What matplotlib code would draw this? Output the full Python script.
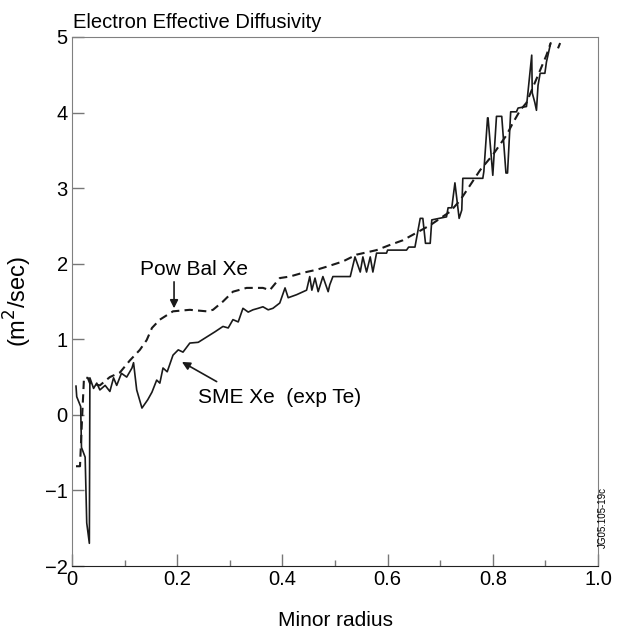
import numpy as np
import matplotlib
matplotlib.use("Agg")
import matplotlib.pyplot as plt

plt.rcParams['font.family'] = ['Liberation Sans', 'DejaVu Sans']

# Pow Bal Xe (dashed)
pb_x = [0.0076, 0.0152, 0.019, 0.0228, 0.030, 0.034, 0.053, 0.072, 0.091, 0.110,
        0.129, 0.142, 0.152, 0.167, 0.192, 0.224, 0.256, 0.268, 0.287, 0.306,
        0.332, 0.363, 0.376, 0.395, 0.414, 0.439, 0.465, 0.484, 0.515, 0.541,
        0.579, 0.605, 0.629, 0.655, 0.681, 0.700, 0.719, 0.738, 0.757, 0.776,
        0.800, 0.826, 0.838, 0.852, 0.864, 0.876, 0.890, 0.902, 0.910,
        np.nan, 0.924, 0.928]
pb_y = [-0.68, -0.68, -0.07, 0.49, 0.49, 0.42, 0.39, 0.50, 0.56, 0.72,
        0.86, 0.99, 1.15, 1.26, 1.37, 1.39, 1.37, 1.39, 1.50, 1.63,
        1.68, 1.68, 1.65, 1.81, 1.83, 1.88, 1.92, 1.96, 2.03, 2.12,
        2.18, 2.25, 2.31, 2.41, 2.51, 2.60, 2.69, 2.84, 3.04, 3.24,
        3.44, 3.70, 3.86, 4.03, 4.13, 4.33, 4.56, 4.76, 4.92,
        np.nan, 4.85, 4.92]

# SME Xe (exp Te) (solid)
sme_x = [0.0076, 0.009, 0.0165, 0.018, 0.025, 0.028, 0.033, 0.034, 0.041, 0.047,
         0.053, 0.063, 0.072, 0.079, 0.085, 0.094, 0.104, 0.114, 0.117, 0.123,
         0.133, 0.144, 0.152, 0.161, 0.167, 0.173, 0.181, 0.192, 0.202, 0.211,
         0.224, 0.240, 0.256, 0.272, 0.287, 0.297, 0.306, 0.316, 0.325, 0.335,
         0.344, 0.354, 0.363, 0.373, 0.382, 0.395, 0.405, 0.411, 0.427, 0.446,
         0.452, 0.456, 0.462, 0.468, 0.477, 0.487, 0.490, 0.496, 0.529, 0.538,
         0.548, 0.553, 0.560, 0.567, 0.572, 0.579, 0.598, 0.600, 0.636, 0.640,
         0.652, 0.662, 0.667, 0.672, 0.681, 0.684, 0.712, 0.715, 0.722, 0.728,
         0.736, 0.741, 0.743, 0.781, 0.783, 0.790, 0.791, 0.800, 0.807, 0.817,
         0.825, 0.828, 0.834, 0.845, 0.848, 0.864, 0.867, 0.874, 0.875, 0.880,
         0.883, 0.886, 0.890, 0.899, 0.902, 0.910]
sme_y = [0.38, 0.24, 0.11, -0.43, -0.56, -1.43, -1.70, 0.49, 0.35, 0.42,
         0.33, 0.39, 0.31, 0.49, 0.39, 0.55, 0.50, 0.62, 0.69, 0.33,
         0.09, 0.20, 0.30, 0.46, 0.42, 0.62, 0.57, 0.79, 0.86, 0.83,
         0.95, 0.96, 1.03, 1.10, 1.17, 1.15, 1.26, 1.23, 1.41, 1.36,
         1.39, 1.41, 1.43, 1.39, 1.41, 1.48, 1.68, 1.55, 1.59, 1.65,
         1.83, 1.65, 1.81, 1.63, 1.83, 1.63, 1.72, 1.83, 1.83, 2.09,
         1.89, 2.09, 1.89, 2.09, 1.89, 2.14, 2.14, 2.18, 2.18, 2.22,
         2.22, 2.60, 2.60, 2.27, 2.27, 2.58, 2.62, 2.74, 2.74, 3.07,
         2.60, 2.71, 3.13, 3.13, 3.22, 3.93, 3.93, 3.17, 3.95, 3.95,
         3.20, 3.20, 4.01, 4.01, 4.06, 4.08, 4.28, 4.76, 4.26, 4.13,
         4.03, 4.36, 4.52, 4.52, 4.67, 4.92]

xticks = [0, 0.2, 0.4, 0.6, 0.8, 1.0]
xticklabels = ['0', '0.2', '0.4', '0.6', '0.8', '1.0']
yticks = [-2, -1, 0, 1, 2, 3, 4, 5]
yticklabels = ['\u22122', '\u22121', '0', '1', '2', '3', '4', '5']

fig = plt.figure(figsize=(6.19, 6.32), dpi=100)
ax = fig.add_axes([72/619, 66/632, 526/619, 529/632])

ax.plot(sme_x, sme_y, color='#1a1a1a', lw=1.2)
ax.plot(pb_x, pb_y, color='#1a1a1a', lw=1.5, dashes=(4, 2.5))

ax.set_xlim(0, 1.0)
ax.set_ylim(-2, 5)
ax.set_xticks(xticks)
ax.set_xticklabels(xticklabels)
ax.set_xticks([0.1, 0.3, 0.5, 0.7, 0.9], minor=True)
ax.set_yticks(yticks)
ax.set_yticklabels(yticklabels)
ax.tick_params(axis='both', which='major', direction='in', length=8.5, width=1,
               color='#777777', labelsize=14.5, pad=3)
ax.tick_params(axis='x', which='minor', direction='in', length=4.5, width=1,
               color='#777777')

for side in ['left', 'top', 'right']:
    ax.spines[side].set_color('#808080')
ax.spines['bottom'].set_color('#222222')

ax.set_xlabel('Minor radius', fontsize=15, labelpad=16)
ax.set_ylabel('(m$^2$/sec)', fontsize=17, labelpad=8)

fig.text(73/619, 1 - 28/632, 'Electron Effective Diffusivity', fontsize=14.5,
         ha='left', va='baseline')

# Pow Bal Xe label and its arrow
ax.text(0.232, 1.80, 'Pow Bal Xe', fontsize=15, ha='center', va='bottom')
ax.annotate('', xy=(0.194, 1.41), xytext=(0.194, 1.76),
            arrowprops=dict(arrowstyle='-|>', color='#1a1a1a', lw=1.2,
                            mutation_scale=12, shrinkA=0, shrinkB=0))

# SME Xe label and its arrow
ax.text(0.240, 0.35, 'SME Xe  (exp Te)', fontsize=15, ha='left', va='top')
ax.annotate('', xy=(0.209, 0.70), xytext=(0.275, 0.44),
            arrowprops=dict(arrowstyle='-|>', color='#1a1a1a', lw=1.2,
                            mutation_scale=12, shrinkA=0, shrinkB=0))

fig.text(603/619, 1 - 517/632, 'JG05.105-19c', fontsize=7, rotation=90,
         ha='center', va='center')

fig.savefig('out.png', dpi=100)
